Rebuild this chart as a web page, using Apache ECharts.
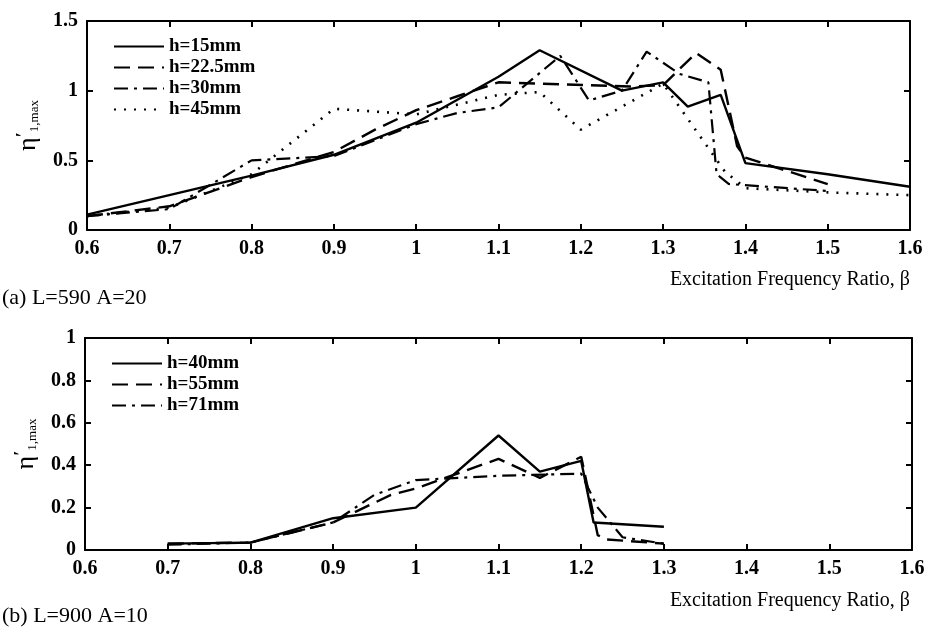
<!DOCTYPE html>
<html><head><meta charset="utf-8">
<script src="https://cdn.jsdelivr.net/npm/echarts@6/dist/echarts.min.js"></script>
<style>html,body{margin:0;padding:0;background:#fff}#c{width:932px;height:630px}</style>
</head><body><div id="c"></div>
<script>
// ---- Panel (a) L=590 A=20 ----
const beta15 = [0.6, 0.7, 0.8, 0.9, 1.0, 1.1, 1.15, 1.25, 1.3, 1.33, 1.37, 1.4, 1.5, 1.6];
const eta15  = [0.11, 0.25, 0.39, 0.54, 0.77, 1.10, 1.29, 1.00, 1.06, 0.885, 0.97, 0.48, 0.40, 0.31];
const beta225 = [0.6, 0.7, 0.8, 0.85, 0.9, 0.95, 1.0, 1.05, 1.1, 1.26, 1.3, 1.34, 1.37, 1.39, 1.4, 1.5];
const eta225  = [0.10, 0.17, 0.38, 0.47, 0.56, 0.72, 0.86, 0.96, 1.06, 1.03, 1.04, 1.27, 1.15, 0.60, 0.52, 0.33];
const beta30 = [0.6, 0.7, 0.8, 0.9, 1.0, 1.05, 1.1, 1.175, 1.21, 1.25, 1.28, 1.32, 1.355, 1.365, 1.38, 1.5];
const eta30  = [0.10, 0.15, 0.50, 0.53, 0.76, 0.84, 0.88, 1.25, 0.93, 1.00, 1.28, 1.12, 1.06, 0.40, 0.33, 0.28];
const beta45 = [0.6, 0.7, 0.8, 0.9, 0.95, 1.0, 1.1, 1.15, 1.2, 1.3, 1.375, 1.4, 1.5, 1.6];
const eta45  = [0.10, 0.16, 0.40, 0.87, 0.85, 0.83, 0.97, 0.99, 0.72, 1.05, 0.42, 0.30, 0.27, 0.25];
const namesA = ['h=15mm', 'h=22.5mm', 'h=30mm', 'h=45mm'];

// ---- Panel (b) L=900 A=10 ----
const beta40 = [0.7, 0.8, 0.9, 1.0, 1.1, 1.15, 1.2, 1.215, 1.3];
const eta40  = [0.03, 0.035, 0.15, 0.20, 0.54, 0.37, 0.42, 0.13, 0.11];
const beta55 = [0.7, 0.8, 0.9, 0.97, 1.0, 1.1, 1.15, 1.2, 1.22, 1.23, 1.3];
const eta55  = [0.03, 0.035, 0.13, 0.26, 0.29, 0.43, 0.34, 0.44, 0.07, 0.05, 0.03];
const beta71 = [0.7, 0.8, 0.9, 0.95, 1.0, 1.1, 1.2, 1.22, 1.25, 1.3];
const eta71  = [0.025, 0.035, 0.13, 0.26, 0.33, 0.35, 0.36, 0.20, 0.06, 0.03];
const namesB = ['h=40mm', 'h=55mm', 'h=71mm'];

// ---- axes / text ----
const xMin = 0.6, xMax = 1.6, xStep = 0.1;
const yMaxA = 1.5, yStepA = 0.5;
const yMaxB = 1, yStepB = 0.2;
const captionA = '(a) L=590 A=20';
const captionB = '(b) L=900 A=10';
const xTitle = 'Excitation Frequency Ratio, β';

const FONT = 'Liberation Serif';
const BLACK = '#000';
const pairs = (xs, ys) => xs.map((x, i) => [x, ys[i]]);

const styles = [
  {type: 'solid', width: 2.4},
  {type: [16, 8], width: 2.4},
  {type: [14, 6, 3, 6], width: 2.2},
  {type: [2, 8], width: 2.6}
];

function xAx(g, pos, labels) {
  return {
    gridIndex: g, type: 'value', position: pos, min: xMin, max: xMax, interval: xStep,
    axisLine: {show: true, onZero: false, lineStyle: {color: BLACK, width: 2}},
    axisTick: {show: true, inside: true, length: 6, lineStyle: {color: BLACK, width: 2}},
    axisLabel: {show: labels, margin: 9, color: BLACK, fontFamily: FONT, fontSize: 20, fontWeight: 'bold'},
    splitLine: {show: false}
  };
}
function yAx(g, pos, labels, max, step) {
  const a = {
    gridIndex: g, type: 'value', position: pos, min: 0, max: max, interval: step,
    axisLine: {show: true, onZero: false, lineStyle: {color: BLACK, width: 2}},
    axisTick: {show: true, inside: true, length: 6, lineStyle: {color: BLACK, width: 2}},
    axisLabel: {show: labels, margin: 9, color: BLACK, fontFamily: FONT, fontSize: 20, fontWeight: 'bold'},
    splitLine: {show: false}
  };
  if (labels) {
    a.name = '{e|η}{s|′}{t|1,max}';
    a.nameLocation = 'middle';
    a.nameRotate = 90;
    a.nameGap = 46;
    a.nameTextStyle = {
      rich: {
        e: {fontFamily: FONT, fontSize: 26, color: BLACK},
        s: {fontFamily: FONT, fontSize: 18, fontWeight: 'bold', color: BLACK, verticalAlign: 'top'},
        t: {fontFamily: FONT, fontSize: 13, color: BLACK, verticalAlign: 'bottom'}
      }
    };
  }
  return a;
}

const series = [];
const dataA = [pairs(beta15, eta15), pairs(beta225, eta225), pairs(beta30, eta30), pairs(beta45, eta45)];
dataA.forEach((d, i) => series.push({
  name: namesA[i], type: 'line', xAxisIndex: 0, yAxisIndex: 0, data: d,
  symbol: 'none', lineStyle: Object.assign({color: BLACK}, styles[i]), itemStyle: {color: BLACK},
  animation: false
}));
const dataB = [pairs(beta40, eta40), pairs(beta55, eta55), pairs(beta71, eta71)];
dataB.forEach((d, i) => series.push({
  name: namesB[i], type: 'line', xAxisIndex: 2, yAxisIndex: 2, data: d,
  symbol: 'none', lineStyle: Object.assign({color: BLACK}, styles[i]), itemStyle: {color: BLACK},
  animation: false
}));

const legendCommon = {
  orient: 'vertical', itemWidth: 50, itemHeight: 12, itemGap: 2,
  itemStyle: {opacity: 0},
  textStyle: {fontFamily: FONT, fontSize: 19, fontWeight: 'bold', color: BLACK}, selectedMode: false
};

const chart = echarts.init(document.getElementById('c'), null, {renderer: 'canvas'});
chart.setOption({
  backgroundColor: '#fff',
  animation: false,
  grid: [
    {left: 87, right: 22, top: 21, height: 209},
    {left: 85, right: 20, top: 338, height: 212}
  ],
  xAxis: [xAx(0, 'bottom', true), xAx(0, 'top', false), xAx(1, 'bottom', true), xAx(1, 'top', false)],
  yAxis: [yAx(0, 'left', true, yMaxA, yStepA), yAx(0, 'right', false, yMaxA, yStepA),
          yAx(1, 'left', true, yMaxB, yStepB), yAx(1, 'right', false, yMaxB, yStepB)],
  legend: [
    Object.assign({data: namesA, left: 108, top: 32}, legendCommon),
    Object.assign({data: namesB, left: 106, top: 349}, legendCommon)
  ],
  title: [
    {text: captionA, left: 2, top: 287, padding: 0, textStyle: {fontFamily: FONT, fontSize: 22, fontWeight: 'normal', color: BLACK}},
    {text: xTitle, right: 22, top: 270, padding: 0, textStyle: {fontFamily: FONT, fontSize: 20, fontWeight: 'normal', color: BLACK}},
    {text: captionB, left: 2, top: 605, padding: 0, textStyle: {fontFamily: FONT, fontSize: 22, fontWeight: 'normal', color: BLACK}},
    {text: xTitle, right: 22, top: 591, padding: 0, textStyle: {fontFamily: FONT, fontSize: 20, fontWeight: 'normal', color: BLACK}}
  ],
  series: series
});
</script>
</body></html>
